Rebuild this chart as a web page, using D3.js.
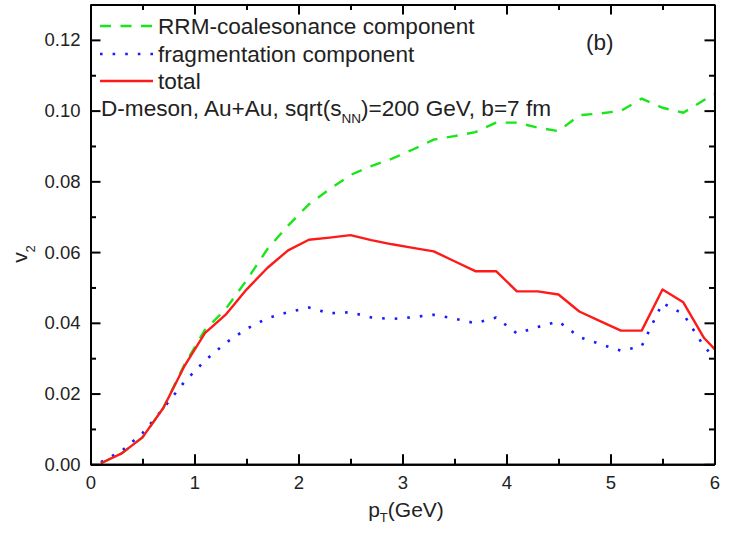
<!DOCTYPE html>
<html>
<head>
<meta charset="utf-8">
<script src="https://cdn.jsdelivr.net/npm/d3@7/dist/d3.min.js"></script>
<style>
  html, body { margin: 0; padding: 0; background: #fff; }
  svg { display: block; font-family: "Liberation Sans", Arial, sans-serif; }
  .axis path, .axis line { stroke: #000; stroke-width: 2; }
  .axis text { font-size: 18.5px; fill: #222; }
</style>
</head>
<body>
<svg id="chart" width="729" height="535"></svg>
<script>
// transverse momentum bins (GeV)
const pT = [0.1, 0.3, 0.5, 0.7, 0.9, 1.1, 1.3, 1.5, 1.7, 1.9, 2.1, 2.3, 2.5, 2.7, 2.9,
            3.1, 3.3, 3.5, 3.7, 3.9, 4.1, 4.3, 4.5, 4.7, 4.9, 5.1, 5.3, 5.5, 5.7, 5.9, 6.1];

// v2 of the RRM-coalesonance component
const coalescence = [0.0003, 0.0031, 0.0076, 0.0159, 0.0280, 0.0380, 0.0439, 0.0520, 0.0608, 0.0675,
                     0.0735, 0.0778, 0.0818, 0.0843, 0.0864, 0.0890, 0.0918, 0.0928, 0.0939, 0.0966,
                     0.0966, 0.0952, 0.0942, 0.0987, 0.0992, 0.0999, 0.1034, 0.1008, 0.0994, 0.1030, 0.1062];

// v2 of the fragmentation component
const fragmentation = [0.0006, 0.0038, 0.0088, 0.0158, 0.0232, 0.0293, 0.0343, 0.0383, 0.0413, 0.0430,
                       0.0443, 0.0427, 0.0430, 0.0415, 0.0411, 0.0416, 0.0423, 0.0412, 0.0399, 0.0415,
                       0.0370, 0.0388, 0.0404, 0.0360, 0.0340, 0.0321, 0.0334, 0.0456, 0.0425, 0.0333, 0.0270];

// total v2
const total = [0.0003, 0.0031, 0.0076, 0.0159, 0.0276, 0.0371, 0.0423, 0.0494, 0.0555, 0.0605,
               0.0635, 0.0641, 0.0648, 0.0634, 0.0622, 0.0612, 0.0602, 0.0574, 0.0546, 0.0546,
               0.0489, 0.0489, 0.0480, 0.0432, 0.0405, 0.0378, 0.0378, 0.0494, 0.0458, 0.0357, 0.0295];

const xMajor = [0, 1, 2, 3, 4, 5, 6];
const xMinor = [0.5, 1.5, 2.5, 3.5, 4.5, 5.5];
const yMajor = [0.00, 0.02, 0.04, 0.06, 0.08, 0.10, 0.12];
const yMinor = [0.01, 0.03, 0.05, 0.07, 0.09, 0.11, 0.13];

const seriesNames = ["RRM-coalesonance component", "fragmentation component", "total"];

const plotLeft = 90.5, plotRight = 714.5, plotTop = 4.5, plotBottom = 464.3;

const svg = d3.select("#chart");
const x = d3.scaleLinear().domain([0, 6]).range([plotLeft, plotRight]);
const y = d3.scaleLinear().domain([0, 0.13]).range([plotBottom, plotTop]);

const styles = [
  { color: "#19e619", dash: "11 9.5", width: 2.4 },
  { color: "#1a1aff", dash: "2.6 10", width: 2.6 },
  { color: "#ff1a1a", dash: null, width: 2.4 }
];
const series = [coalescence, fragmentation, total];

svg.append("defs").append("clipPath").attr("id", "plot-clip")
  .append("rect").attr("x", plotLeft).attr("y", plotTop)
  .attr("width", plotRight - plotLeft).attr("height", plotBottom - plotTop);

const line = d3.line().x((d, i) => x(pT[i])).y(d => y(d));

const curves = svg.append("g").attr("clip-path", "url(#plot-clip)");
series.forEach((vals, k) => {
  curves.append("path")
    .datum(vals)
    .attr("d", line)
    .attr("fill", "none")
    .attr("stroke", styles[k].color)
    .attr("stroke-width", styles[k].width)
    .attr("stroke-linejoin", "round")
    .attr("stroke-dasharray", styles[k].dash);
});

// axes: major and minor ticks on all four sides, pointing inward
function addAxis(gen, tx, ty, vals, size, fmt) {
  return svg.append("g").attr("class", "axis")
    .attr("transform", `translate(${tx},${ty})`)
    .call(gen.tickValues(vals).tickSize(-size).tickSizeOuter(0).tickFormat(fmt));
}
const none = () => "";
addAxis(d3.axisBottom(x).tickPadding(12), 0, plotBottom, xMajor, 10, d3.format("d"));
addAxis(d3.axisBottom(x), 0, plotBottom, xMinor, 5.5, none);
addAxis(d3.axisLeft(y).tickPadding(10), plotLeft, 0, yMajor, 10, d3.format(".2f"));
addAxis(d3.axisLeft(y), plotLeft, 0, yMinor, 5.5, none);
addAxis(d3.axisTop(x), 0, plotTop, xMajor, 10, none);
addAxis(d3.axisTop(x), 0, plotTop, xMinor, 5.5, none);
addAxis(d3.axisRight(y), plotRight, 0, yMajor, 10, none);
addAxis(d3.axisRight(y), plotRight, 0, yMinor, 5.5, none);
svg.selectAll(".axis text").attr("fill", "#222");

// axis titles
const xt = svg.append("text")
  .attr("x", 406).attr("y", 517)
  .attr("text-anchor", "middle")
  .attr("font-size", 21).attr("fill", "#222");
xt.append("tspan").text("p");
xt.append("tspan").attr("font-size", 13).attr("dy", 5).text("T");
xt.append("tspan").attr("dy", -5).text("(GeV)");

const yt = svg.append("text")
  .attr("transform", "translate(27,254) rotate(-90)")
  .attr("text-anchor", "middle")
  .attr("font-size", 21).attr("fill", "#222");
yt.append("tspan").text("v");
yt.append("tspan").attr("font-size", 13).attr("dy", 8).text("2");

// legend
const legendRows = [26, 54, 81];
const legendBase = [34, 61.5, 89];
seriesNames.forEach((name, k) => {
  svg.append("line")
    .attr("x1", 100).attr("x2", 153)
    .attr("y1", legendRows[k]).attr("y2", legendRows[k])
    .attr("stroke", styles[k].color)
    .attr("stroke-width", styles[k].width)
    .attr("stroke-dasharray", styles[k].dash);
  svg.append("text")
    .attr("x", 158).attr("y", legendBase[k])
    .attr("font-size", 22.6).attr("fill", "#222")
    .text(name);
});

// system annotation
const note = svg.append("text")
  .attr("x", 101).attr("y", 116)
  .attr("font-size", 22.6).attr("fill", "#222");
note.append("tspan").text("D-meson, Au+Au, sqrt(s");
note.append("tspan").attr("font-size", 13.5).attr("dy", 7).text("NN");
note.append("tspan").attr("dy", -7).text(")=200 GeV, b=7 fm");

svg.append("text")
  .attr("x", 586).attr("y", 50)
  .attr("font-size", 22.6).attr("fill", "#222")
  .text("(b)");
</script>
</body>
</html>
